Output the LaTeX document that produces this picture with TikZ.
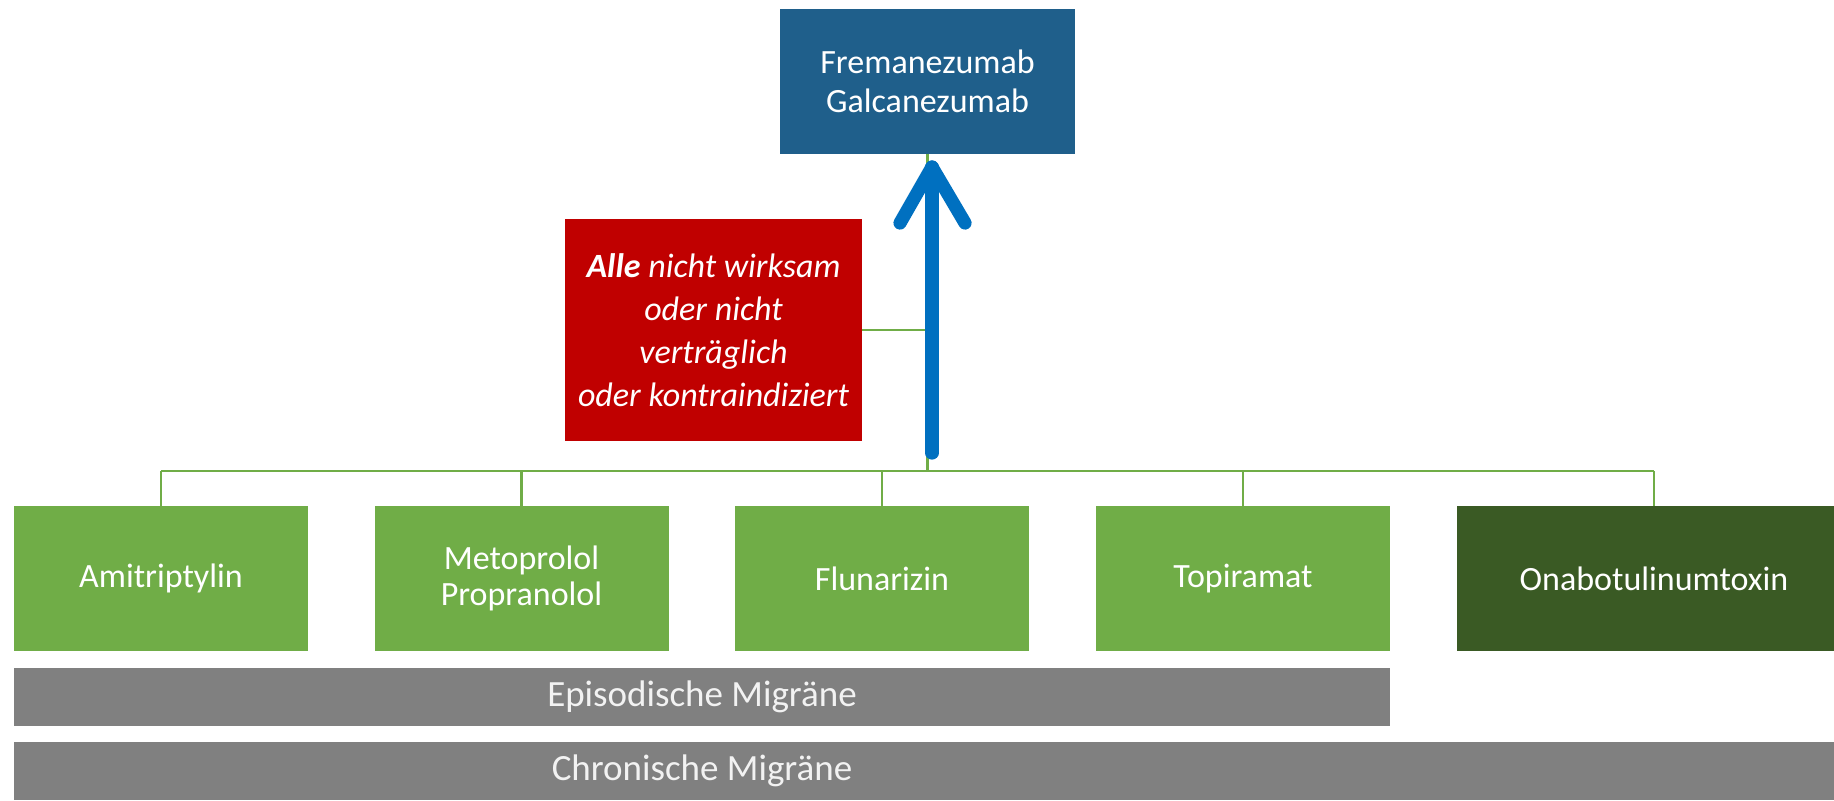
\documentclass[tikz,border=0pt]{standalone}
\usepackage{fontspec}
\setmainfont{Carlito}
\usetikzlibrary{calc}
\definecolor{topblue}{HTML}{1F5F8B}
\definecolor{redbg}{HTML}{C00000}
\definecolor{midgreen}{HTML}{70AD47}
\definecolor{darkgreen}{HTML}{3A5A24}
\definecolor{bargray}{HTML}{808080}
\definecolor{arrowblue}{HTML}{0070C0}
\definecolor{linegreen}{HTML}{70AD47}
\begin{document}
\begin{tikzpicture}[x=0.5pt,y=-0.5pt,
  basebox/.style={rectangle, inner sep=0pt, text=white, align=center,
    font=\fontsize{17}{18}\selectfont},
  drugbox/.style={basebox, fill=midgreen, minimum width=147pt, minimum height=72.5pt},
  topbox/.style={basebox, fill=topblue, minimum width=147.5pt, minimum height=72.5pt,
    font=\fontsize{17}{19.5}\selectfont},
  redbox/.style={basebox, fill=redbg, minimum width=148.5pt, minimum height=111pt,
    font=\fontsize{17}{21.5}\selectfont\itshape},
  bar/.style={rectangle, inner sep=0pt, fill=bargray, minimum height=29pt},
  bartext/.style={inner sep=0pt, text=white!95!black, font=\fontsize{18.5}{20}\selectfont},
  conn/.style={draw=linegreen, line width=1.1pt},
  bluearrow/.style={draw=arrowblue, line width=6.6pt, line cap=round, line join=round}]
\clip (0,0) rectangle (1834,800);
\fill[white] (0,0) rectangle (1834,800);

% nodes
\node[topbox] (top) at (927.5,81.5) {Fremanezumab\\Galcanezumab};
\node[redbox] (red) at (713.5,330) {\textbf{Alle} nicht wirksam\\oder nicht\\verträglich\\oder kontraindiziert};

\node[drugbox] (b1) at (161,578.5) {Amitriptylin};
\node[drugbox] (b2) at (521.5,578.5) {Metoprolol\\Propranolol};
\node[drugbox] (b3) at (882,578.5) {Flunarizin};
\node[drugbox] (b4) at (1243,578.5) {Topiramat};
\node[drugbox, fill=darkgreen, minimum width=197pt] (b5) at (1654,578.5) {Onabotulinumtoxin};

\node[bar, minimum width=688pt] (epi) at (702,697) {};
\node[bartext] (epitext) at (epi.center) {Episodische Migräne};
\node[bar, minimum width=925pt] (chr) at (939,771) {};
\node[bartext] (chrtext) at (702,771) {Chronische Migräne};

% connectors
\coordinate (bus) at (927.5,471);
\draw[conn] (top.south) -- (top.south |- bus);
\draw[conn] (red.east) -- (red.east -| top.south);
\draw[conn] (b1.north |- bus) -- (b5.north |- bus);
\foreach \n in {b1,b2,b3,b4,b5}
  \draw[conn] (\n.north) -- (\n.north |- bus);

% blue arrow
\coordinate (abase) at (932,453);
\coordinate (atip) at (932,167);
\draw[bluearrow] (abase) -- (atip);
\draw[bluearrow] ($(atip)+(-32,56)$) -- (atip) -- ($(atip)+(33,56)$);
\end{tikzpicture}
\end{document}
